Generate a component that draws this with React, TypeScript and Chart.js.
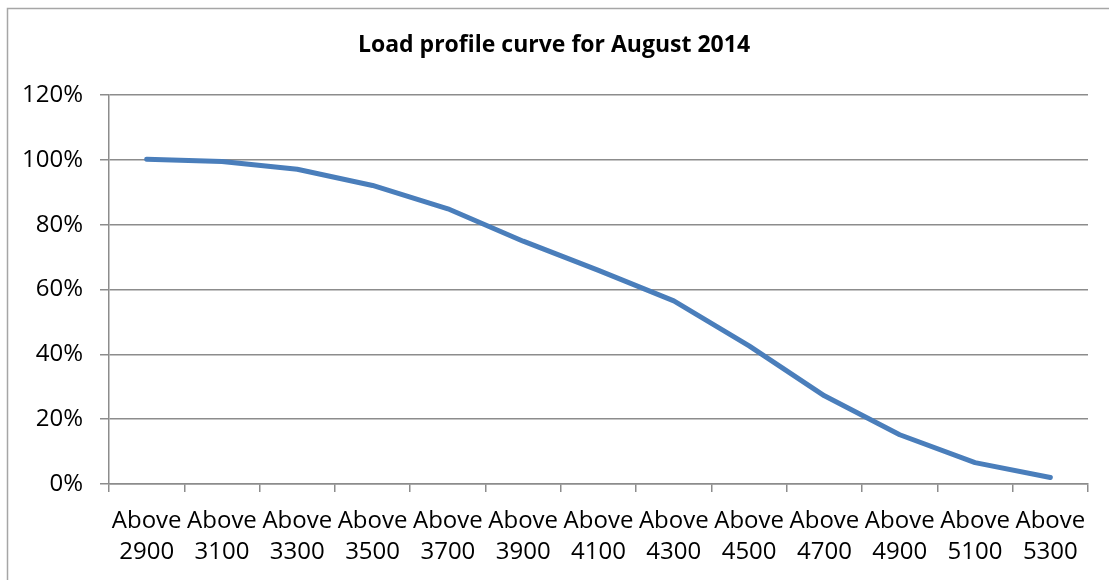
import React, { useEffect, useRef } from "react";
import { Chart, registerables } from "chart.js";

Chart.register(...registerables);

const thresholds = ["2900", "3100", "3300", "3500", "3700", "3900", "4100", "4300", "4500", "4700", "4900", "5100", "5300"];
const categoryPrefix = "Above";
const loadShare = [100.2, 99.5, 97.1, 92.1, 84.9, 74.9, 65.9, 56.5, 42.6, 27.2, 15.2, 6.6, 2.0];
const yTicks = [0, 20, 40, 60, 80, 100, 120];
const chartTitle = "Load profile curve for August 2014";

const FONT = "'Open Sans', 'Noto Sans', sans-serif";

const borderPlugin = {
  id: "outerBorder",
  beforeDraw(chart: any) {
    const ctx = chart.ctx;
    ctx.save();
    ctx.strokeStyle = "#a6a6a6";
    ctx.lineWidth = 1.5;
    ctx.strokeRect(7.5, 8.5, 1200, 700);
    ctx.restore();
  },
};

export default function App() {
  const ref = useRef<HTMLCanvasElement | null>(null);
  useEffect(() => {
    if (!ref.current) return;
    const chart = new Chart(ref.current, {
      type: "line",
      data: {
        labels: thresholds.map((t) => [categoryPrefix, t]),
        datasets: [
          {
            data: loadShare,
            borderColor: "#4a7ebb",
            backgroundColor: "#4a7ebb",
            borderWidth: 5,
            pointRadius: 0,
            pointHoverRadius: 0,
            tension: 0,
            borderCapStyle: "round",
            borderJoinStyle: "round",
            fill: false,
          },
        ],
      },
      options: {
        animation: false,
        responsive: false,
        maintainAspectRatio: false,
        layout: { padding: { left: 20, right: 21, top: 0, bottom: 0 } },
        plugins: {
          legend: { display: false },
          tooltip: { enabled: false },
          title: {
            display: true,
            text: chartTitle,
            color: "#000",
            font: { family: FONT, size: 23, weight: "bold", lineHeight: 1.2 },
            padding: { top: 32, bottom: 35.4 },
          },
        },
        scales: {
          x: {
            type: "category",
            offset: true,
            grid: {
              offset: true,
              drawOnChartArea: false,
              drawTicks: true,
              tickLength: 8,
              color: "#8c8c8c",
              lineWidth: 1.5,
            },
            border: { display: true, color: "#8c8c8c", width: 1.5 },
            ticks: {
              autoSkip: false,
              maxRotation: 0,
              minRotation: 0,
              padding: 13,
              color: "#000",
              font: { family: FONT, size: 24, lineHeight: 1.32 },
            },
            afterFit(scale: any) {
              scale.height = 96;
            },
          },
          y: {
            min: 0,
            max: 120,
            afterBuildTicks(scale: any) {
              scale.ticks = yTicks.map((v) => ({ value: v }));
            },
            grid: {
              color: "#8c8c8c",
              lineWidth: 1.5,
              drawTicks: true,
              tickLength: 9,
            },
            border: { display: true, color: "#8c8c8c", width: 1.5 },
            ticks: {
              padding: 17,
              color: "#000",
              font: { family: FONT, size: 24 },
              callback: (v: any) => `${v}%`,
            },
            afterFit(scale: any) {
              scale.width = 89;
            },
          },
        },
      },
      plugins: [borderPlugin],
    });
    return () => chart.destroy();
  }, []);
  return (
    <div style={{ position: "fixed", left: 0, top: 0, width: 1109, height: 580, background: "#fff" }}>
      <canvas ref={ref} width={1109} height={580} style={{ display: "block", width: 1109, height: 580 }} />
    </div>
  );
}
